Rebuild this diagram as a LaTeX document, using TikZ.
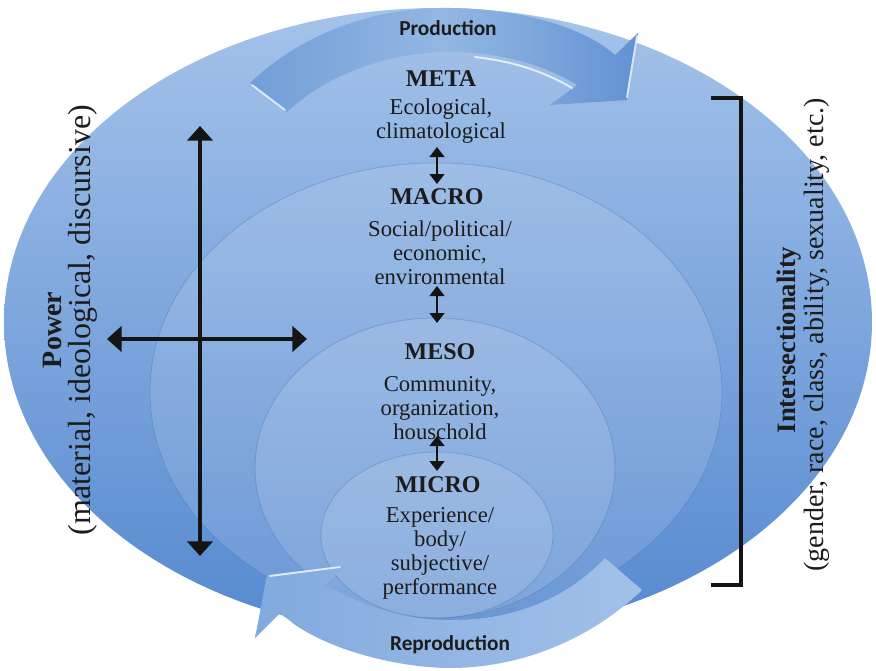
\documentclass[tikz,border=0pt]{standalone}
\usepackage{fontspec}
\setmainfont{Liberation Serif}
\newfontfamily\sansf{Carlito}
\usetikzlibrary{arrows.meta}
\definecolor{txt}{HTML}{1C1C1C}
\definecolor{elltop}{HTML}{A5C3EA}
\definecolor{ellmid}{HTML}{7BA5DA}
\definecolor{ellbot}{HTML}{5589D0}
\definecolor{ringline}{HTML}{4A78B8}
\definecolor{prodL}{HTML}{719FD8}
\definecolor{prodM}{HTML}{93B7E2}
\definecolor{prodR}{HTML}{6292D3}
\definecolor{repL}{HTML}{82AADE}
\definecolor{repR}{HTML}{A2C1E9}
\begin{document}
\begin{tikzpicture}[x=0.75pt,y=-0.75pt,
  lvlhead/.style={font=\fontsize{18}{20}\selectfont\bfseries, text=txt, inner sep=0pt},
  lvlbody/.style={font=\fontsize{17}{18}\selectfont, align=center, text=txt, inner sep=0pt},
  sidebold/.style={rotate=90, font=\fontsize{#1}{#1}\selectfont\bfseries, text=txt, inner sep=0pt},
  sidetext/.style={rotate=90, font=\fontsize{#1}{#1}\selectfont, text=txt, inner sep=0pt},
  cyclelabel/.style={font=\sansf\bfseries\fontsize{16}{18}\selectfont, text=txt, inner sep=0pt},
  ring/.style={fill=white, fill opacity=0.12, draw=ringline, draw opacity=0.4, line width=0.6pt},
  bigarrow/.style={draw=black!92, line width=2.8pt, {Triangle[width=19pt,length=11pt]}-{Triangle[width=19pt,length=11pt]}},
  smallarrow/.style={draw=black!92, line width=2.1pt, {Triangle[width=11pt,length=7.5pt]}-{Triangle[width=11pt,length=7.5pt]}},
  highlight/.style={draw=white, line width=1.4pt, line cap=round, opacity=0.75}
]
\useasboundingbox (0,0) rectangle (876,671);

% outer ellipse
\shade[top color=elltop, middle color=ellmid, bottom color=ellbot] (438,322) ellipse [x radius=434, y radius=314];

% nested rings
\path[ring] (436,392) ellipse [x radius=286, y radius=229];
\path[ring] (435,468) ellipse [x radius=180, y radius=150];
\path[ring] (437,535) ellipse [x radius=116, y radius=83];

% Production arrow
\shade[left color=prodL, right color=prodR, middle color=prodM]
  (250,83) .. controls (300,35) and (370,9) .. (440,8)
  .. controls (520,7) and (585,28) .. (615,55)
  -- (638,33) -- (627,100) -- (550,105) -- (577,85)
  .. controls (540,62) and (495,52) .. (445,52)
  .. controls (380,53) and (320,80) .. (287,112) -- cycle;
\draw[highlight] (252,85) -- (285,110);
\draw[highlight] (475,57) .. controls (520,62) and (550,75) .. (572,88);
\draw[highlight] (637,36) -- (627,97);

% Reproduction arrow
\shade[left color=repL, right color=repR]
  (642,590) .. controls (590,640) and (520,668) .. (450,668)
  .. controls (400,668) and (320,650) .. (280,613)
  -- (255,638) -- (267,575) -- (347,565) -- (325,585)
  .. controls (370,610) and (410,620) .. (450,620)
  .. controls (520,620) and (570,595) .. (605,558) -- cycle;
\draw[highlight] (270,576) -- (340,567);
\draw[highlight] (285,618) .. controls (310,640) and (335,652) .. (365,660);

% cycle labels
\node[cyclelabel] (prod) at (448,28) {Production};
\node[cyclelabel] (repro) at (450,645) {Reproduction};

% level texts
\node[lvlhead] (meta) at (441,79) {META};
\node[lvlbody] (metat) at (441,121) {Ecological,\\climatological};
\node[lvlhead] (macro) at (437,197) {MACRO};
\node[lvlbody] (macrot) at (440,253) {Social/political/\\economic,\\environmental};
\node[lvlhead] (meso) at (440,352) {MESO};
\node[lvlbody] (mesot) at (440,408) {Community,\\organization,\\houschold};
\node[lvlhead] (micro) at (438,485) {MICRO};
\node[lvlbody] (microt) at (440,553) {Experience/\\body/\\subjective/\\performance};

% small double arrows between levels
\coordinate (s1a) at (437,147); \coordinate (s1b) at (437,184);
\coordinate (s2a) at (437,286); \coordinate (s2b) at (437,323);
\coordinate (s3a) at (437,436); \coordinate (s3b) at (437,471);
\draw[smallarrow] (s1a) -- (s1b);
\draw[smallarrow] (s2a) -- (s2b);
\draw[smallarrow] (s3a) -- (s3b);

% power cross
\coordinate (vt) at (200,126); \coordinate (vb) at (200,556);
\coordinate (hl) at (107,339); \coordinate (hr) at (307,339);
\draw[bigarrow] (vt) -- (vb);
\draw[bigarrow] (hl) -- (hr);

% intersectionality bracket
\coordinate (bt) at (711,98); \coordinate (bb) at (711,585);
\draw[draw=black!92, line width=3pt] (bt) -- (741,98) -- (741,585) -- (bb);

% side labels
\node[sidebold=21] (power) at (52,330) {Power};
\node[sidetext=24] (powert) at (83,320) {(material, ideological, discursive)};
\node[sidebold=20] (inter) at (789,340) {Intersectionality};
\node[sidetext=21] (intert) at (817,335) {(gender, race, class, ability, sexuality, etc.)};
\end{tikzpicture}
\end{document}
